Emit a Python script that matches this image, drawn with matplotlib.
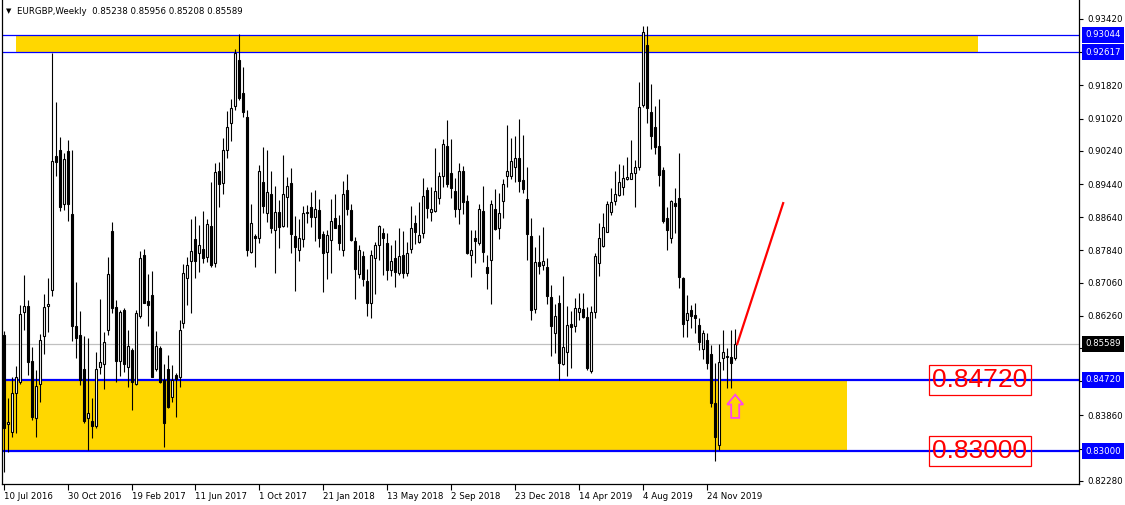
import matplotlib
matplotlib.use("Agg")
import matplotlib.pyplot as plt
import matplotlib.transforms as mtransforms
from matplotlib.patches import Rectangle, Polygon
import numpy as np
import pandas as pd

# weekly EURGBP candles, first bar = week of 10 Jul 2016
opens = [
    0.8580, 0.8366, 0.8347, 0.8439, 0.8467, 0.8636, 0.8651, 0.8517, 0.8379, 0.8462,
    0.8577, 0.8651, 0.8688, 0.9012, 0.9026, 0.8897, 0.9024, 0.8872, 0.8602, 0.8580,
    0.8499, 0.8379, 0.8372, 0.8361, 0.8502, 0.8509, 0.8592, 0.8831, 0.8647, 0.8517,
    0.8640, 0.8502, 0.8544, 0.8462, 0.8627, 0.8773, 0.8662, 0.8676, 0.8498, 0.8548,
    0.8471, 0.8497, 0.8431, 0.8483, 0.8478, 0.8608, 0.8717, 0.8759, 0.8811, 0.8777,
    0.8787, 0.8769, 0.8843, 0.8753, 0.8975, 0.8946, 0.9026, 0.9090, 0.9133, 0.9243,
    0.9163, 0.9105, 0.8781, 0.8819, 0.8813, 0.8948, 0.8873, 0.8920, 0.8833, 0.8876,
    0.8844, 0.8913, 0.8946, 0.8819, 0.8786, 0.8811, 0.8875, 0.8888, 0.8865, 0.8881,
    0.8823, 0.8781, 0.8809, 0.8861, 0.8845, 0.8785, 0.8929, 0.8881, 0.8806, 0.8727,
    0.8770, 0.8710, 0.8658, 0.8765, 0.8797, 0.8825, 0.8803, 0.8737, 0.8765, 0.8729,
    0.8774, 0.8729, 0.8787, 0.8849, 0.8805, 0.8827, 0.8929, 0.8877, 0.8880, 0.8910,
    0.8964, 0.9036, 0.8970, 0.8927, 0.8884, 0.8975, 0.8903, 0.8774, 0.8813, 0.8803,
    0.8879, 0.8743, 0.8761, 0.8883, 0.8837, 0.8904, 0.8963, 0.8964, 0.8984, 0.9006,
    0.8954, 0.8909, 0.8819, 0.8643, 0.8757, 0.8749, 0.8743, 0.8671, 0.8586, 0.8656,
    0.8509, 0.8540, 0.8607, 0.8602, 0.8636, 0.8642, 0.8624, 0.8492, 0.8636, 0.8753,
    0.8795, 0.8829, 0.8877, 0.8904, 0.8918, 0.8936, 0.8955, 0.8956, 0.8970, 0.8986,
    0.9135, 0.9279, 0.9117, 0.9081, 0.9036, 0.8978, 0.8861, 0.8815, 0.8899, 0.8910,
    0.8717, 0.8615, 0.8640, 0.8628, 0.8604, 0.8546, 0.8568, 0.8533, 0.8415, 0.8315,
    0.8524, 0.8526, 0.8528, 0.85238,
]
highs = [
    0.8590, 0.8427, 0.8479, 0.8505, 0.8652, 0.8725, 0.8664, 0.8552, 0.8496, 0.8582,
    0.8679, 0.8717, 0.9261, 0.9143, 0.9058, 0.9020, 0.9050, 0.9026, 0.8707, 0.8638,
    0.8577, 0.8572, 0.8427, 0.8540, 0.8666, 0.8588, 0.8767, 0.8852, 0.8664, 0.8640,
    0.8644, 0.8592, 0.8548, 0.8640, 0.8783, 0.8787, 0.8727, 0.8735, 0.8589, 0.8553,
    0.8511, 0.8532, 0.8507, 0.8489, 0.8616, 0.8751, 0.8769, 0.8860, 0.8867, 0.8845,
    0.8879, 0.8859, 0.8948, 0.8994, 0.8996, 0.9054, 0.9120, 0.9149, 0.9269, 0.9306,
    0.9227, 0.9123, 0.8897, 0.8823, 0.8991, 0.9034, 0.9025, 0.8975, 0.8940, 0.8905,
    0.9014, 0.8962, 0.8983, 0.8867, 0.8860, 0.8891, 0.8893, 0.8924, 0.8930, 0.8909,
    0.8831, 0.8833, 0.8909, 0.8920, 0.8869, 0.8951, 0.8968, 0.8896, 0.8817, 0.8797,
    0.8783, 0.8739, 0.8785, 0.8805, 0.8845, 0.8837, 0.8825, 0.8797, 0.8809, 0.8837,
    0.8831, 0.8805, 0.8891, 0.8869, 0.8900, 0.8958, 0.8937, 0.8936, 0.9032, 0.8974,
    0.9053, 0.9098, 0.9053, 0.8958, 0.8994, 0.8988, 0.8918, 0.8833, 0.8833, 0.8896,
    0.8939, 0.8773, 0.8906, 0.8931, 0.8922, 0.8955, 0.9086, 0.9056, 0.9060, 0.9102,
    0.9062, 0.8986, 0.8861, 0.8791, 0.8821, 0.8841, 0.8766, 0.8701, 0.8655, 0.8676,
    0.8722, 0.8650, 0.8639, 0.8669, 0.8681, 0.8681, 0.8648, 0.8650, 0.8777, 0.8851,
    0.8875, 0.8903, 0.8934, 0.8976, 0.8992, 0.8990, 0.9010, 0.9050, 0.9002, 0.9191,
    0.9325, 0.9325, 0.9185, 0.9133, 0.9148, 0.8986, 0.8888, 0.8906, 0.8934, 0.9020,
    0.8721, 0.8676, 0.8652, 0.8656, 0.8620, 0.8592, 0.8584, 0.8556, 0.8512, 0.8558,
    0.8592, 0.8548, 0.8592, 0.85956,
]
lows = [
    0.8250, 0.8298, 0.8335, 0.8343, 0.8463, 0.8592, 0.8483, 0.8375, 0.8333, 0.8419,
    0.8534, 0.8588, 0.8675, 0.8964, 0.8879, 0.8881, 0.8856, 0.8566, 0.8525, 0.8459,
    0.8368, 0.8302, 0.8331, 0.8355, 0.8487, 0.8449, 0.8580, 0.8632, 0.8467, 0.8482,
    0.8491, 0.8455, 0.8399, 0.8459, 0.8620, 0.8656, 0.8602, 0.8478, 0.8494, 0.8465,
    0.8310, 0.8403, 0.8419, 0.8383, 0.8455, 0.8598, 0.8652, 0.8634, 0.8718, 0.8733,
    0.8753, 0.8755, 0.8743, 0.8743, 0.8889, 0.8920, 0.9006, 0.9048, 0.9123, 0.9147,
    0.9106, 0.8771, 0.8777, 0.8745, 0.8801, 0.8875, 0.8853, 0.8825, 0.8730, 0.8790,
    0.8840, 0.8841, 0.8777, 0.8687, 0.8759, 0.8791, 0.8851, 0.8841, 0.8807, 0.8793,
    0.8684, 0.8714, 0.8730, 0.8837, 0.8785, 0.8771, 0.8869, 0.8807, 0.8666, 0.8717,
    0.8699, 0.8626, 0.8620, 0.8680, 0.8761, 0.8725, 0.8713, 0.8723, 0.8696, 0.8725,
    0.8717, 0.8723, 0.8778, 0.8799, 0.8803, 0.8815, 0.8863, 0.8855, 0.8877, 0.8896,
    0.8938, 0.8938, 0.8911, 0.8865, 0.8847, 0.8871, 0.8775, 0.8721, 0.8753, 0.8797,
    0.8755, 0.8690, 0.8654, 0.8833, 0.8811, 0.8861, 0.8938, 0.8956, 0.8950, 0.8926,
    0.8922, 0.8761, 0.8616, 0.8634, 0.8726, 0.8737, 0.8655, 0.8529, 0.8536, 0.8471,
    0.8508, 0.8481, 0.8500, 0.8588, 0.8615, 0.8620, 0.8496, 0.8489, 0.8622, 0.8722,
    0.8791, 0.8828, 0.8869, 0.8893, 0.8914, 0.8918, 0.8954, 0.8955, 0.8889, 0.8978,
    0.9129, 0.9090, 0.9029, 0.9016, 0.8940, 0.8849, 0.8785, 0.8803, 0.8825, 0.8694,
    0.8574, 0.8576, 0.8596, 0.8584, 0.8544, 0.8522, 0.8497, 0.8407, 0.8275, 0.8303,
    0.8496, 0.8451, 0.8451, 0.85208,
]
closes = [
    0.8356, 0.8369, 0.8439, 0.8479, 0.8630, 0.8650, 0.8515, 0.8383, 0.8457, 0.8569,
    0.8647, 0.8655, 0.8999, 0.8998, 0.8889, 0.9004, 0.8897, 0.8602, 0.8572, 0.8471,
    0.8373, 0.8391, 0.8360, 0.8497, 0.8514, 0.8562, 0.8726, 0.8644, 0.8517, 0.8635,
    0.8511, 0.8553, 0.8467, 0.8632, 0.8765, 0.8658, 0.8652, 0.8479, 0.8553, 0.8467,
    0.8367, 0.8407, 0.8471, 0.8474, 0.8593, 0.8729, 0.8749, 0.8782, 0.8759, 0.8798,
    0.8766, 0.8847, 0.8749, 0.8972, 0.8943, 0.9026, 0.9081, 0.9127, 0.9261, 0.9152,
    0.9118, 0.8786, 0.8849, 0.8813, 0.8975, 0.8892, 0.8924, 0.8839, 0.8876, 0.8841,
    0.8919, 0.8939, 0.8823, 0.8793, 0.8815, 0.8873, 0.8877, 0.8865, 0.8883, 0.8815,
    0.8777, 0.8821, 0.8855, 0.8839, 0.8801, 0.8921, 0.8883, 0.8809, 0.8738, 0.8786,
    0.8714, 0.8656, 0.8774, 0.8798, 0.8843, 0.8813, 0.8737, 0.8758, 0.8731, 0.8771,
    0.8730, 0.8777, 0.8839, 0.8829, 0.8821, 0.8915, 0.8887, 0.8885, 0.8927, 0.8964,
    0.9040, 0.8944, 0.8934, 0.8885, 0.8975, 0.8900, 0.8777, 0.8785, 0.8807, 0.8885,
    0.8781, 0.8730, 0.8896, 0.8836, 0.8873, 0.8943, 0.8976, 0.9000, 0.9008, 0.8952,
    0.8931, 0.8823, 0.8640, 0.8755, 0.8746, 0.8758, 0.8675, 0.8601, 0.8626, 0.8513,
    0.8550, 0.8604, 0.8600, 0.8644, 0.8644, 0.8624, 0.8500, 0.8636, 0.8771, 0.8813,
    0.8840, 0.8896, 0.8900, 0.8920, 0.8950, 0.8958, 0.8960, 0.8970, 0.8984, 0.9129,
    0.9311, 0.9128, 0.9061, 0.9034, 0.8967, 0.8855, 0.8832, 0.8902, 0.8890, 0.8721,
    0.8607, 0.8632, 0.8626, 0.8622, 0.8562, 0.8584, 0.8512, 0.8417, 0.8335, 0.8516,
    0.8540, 0.8529, 0.8513, 0.85589,
]
first_week = "2016-07-10"

upper_zone = (0.92617, 0.93044)
lower_zone = (0.83000, 0.84720)
last_price = 0.85589
ytick_vals = [0.93420, 0.92620, 0.91820, 0.91020, 0.90240, 0.89440, 0.88640,
              0.87840, 0.87060, 0.86260, 0.85480, 0.84680, 0.83860, 0.83060, 0.82280]
# labels that sit under the blue price tags are not shown
hidden_ticks = [0.92620, 0.84680, 0.83060]
trend_line = ([183.5, 195.0], [0.8558, 0.8898])
arrow_x, arrow_top, arrow_bottom = 183.0, 0.8436, 0.8380

n = len(closes)
idx = np.arange(n)
o = np.array(opens); h = np.array(highs); l = np.array(lows); c = np.array(closes)
weeks = pd.date_range(first_week, periods=n, freq="7D")

fig = plt.figure(figsize=(11.25, 5.05), dpi=100)
ax = fig.add_axes([2 / 1125, 21 / 505, 1077 / 1125, 484 / 505])
ax.set_xlim(-0.4, 269)
ax.set_ylim(0.82207, 0.93878)

# support / resistance zones
ax.add_patch(Rectangle((3, upper_zone[0]), 240.75, upper_zone[1] - upper_zone[0],
                       facecolor="#FFD700", edgecolor="none", zorder=1))
ax.add_patch(Rectangle((-1, lower_zone[0]), 212, lower_zone[1] - lower_zone[0],
                       facecolor="#FFD700", edgecolor="none", zorder=1))
for lvl in upper_zone:
    ax.axhline(lvl, color="#0000FF", lw=0.9, zorder=2)
for lvl in lower_zone:
    ax.axhline(lvl, color="#0000FF", lw=1.6, zorder=2)
ax.axhline(last_price, color="#C0C0C0", lw=0.9, zorder=2)

# candles
ax.vlines(idx, l, h, color="black", lw=0.8, zorder=3)
up = c >= o
body_lo = np.minimum(o, c)
body_h = np.maximum(np.abs(c - o), 0.00005)
ax.bar(idx, body_h, bottom=body_lo, width=0.5,
       color=np.where(up, "white", "black"), edgecolor="black", lw=0.8, zorder=4)

# trend line + arrow
ax.plot(trend_line[0], trend_line[1], color="#FF0000", lw=1.6, zorder=5)
aw, sw = 2.0, 1.0
head = arrow_top - (arrow_top - arrow_bottom) * 0.42
ax.add_patch(Polygon([(arrow_x, arrow_top), (arrow_x + aw, head), (arrow_x + sw, head),
                      (arrow_x + sw, arrow_bottom), (arrow_x - sw, arrow_bottom),
                      (arrow_x - sw, head), (arrow_x - aw, head)],
                     closed=True, facecolor="none", edgecolor="#FF44EE", lw=1.3, zorder=5))

# big red labels
for lvl in lower_zone:
    ax.text(244.2, lvl, f"{lvl:.5f}", color="#FF0000", fontsize=19, family="Liberation Sans",
            ha="center", va="center", zorder=6,
            bbox=dict(boxstyle="square,pad=0.12", facecolor="none", edgecolor="#FF0000", lw=0.9))

# axes styling
ax.spines["top"].set_visible(False)
for s in ["left", "right", "bottom"]:
    ax.spines[s].set_linewidth(0.9)
ax.yaxis.tick_right()
ax.set_yticks(ytick_vals)
ax.set_yticklabels(["" if v in hidden_ticks else f"{v:.5f}" for v in ytick_vals],
                   fontsize=6.2, family="DejaVu Sans")
ax.tick_params(axis="y", direction="out", length=3, width=0.8, pad=3)
xt = idx[::16]
ax.set_xticks(xt)
ax.set_xticklabels([f"{d.day} {d.strftime('%b %Y')}" for d in weeks[::16]],
                   fontsize=6.2, family="DejaVu Sans", ha="left")
ax.tick_params(axis="x", direction="out", length=4, width=0.8, pad=2)

# price tags on right axis
tr = mtransforms.blended_transform_factory(ax.transAxes, ax.transData)
tag_x = 1 + 6 / 1077
for lvl in list(upper_zone) + list(lower_zone):
    ax.text(tag_x, lvl, f"{lvl:.5f}", transform=tr, color="white", fontsize=6.2,
            va="center", ha="left", clip_on=False, zorder=7,
            bbox=dict(boxstyle="square,pad=0.4", facecolor="#0000FF", edgecolor="none"))
ax.text(tag_x, last_price, f"{last_price:.5f}", transform=tr, color="white", fontsize=6.2,
        va="center", ha="left", clip_on=False, zorder=7,
        bbox=dict(boxstyle="square,pad=0.4", facecolor="black", edgecolor="none"))

# header
fig.text(6 / 1125, 1 - 11 / 505, "\u25bc", fontsize=5, va="center", ha="left")
fig.text(17 / 1125, 1 - 11 / 505,
         f"EURGBP,Weekly  {opens[-1]:.5f} {highs[-1]:.5f} {lows[-1]:.5f} {closes[-1]:.5f}",
         fontsize=6.2, va="center", ha="left")

fig.savefig("out.png", dpi=100, facecolor="white")
